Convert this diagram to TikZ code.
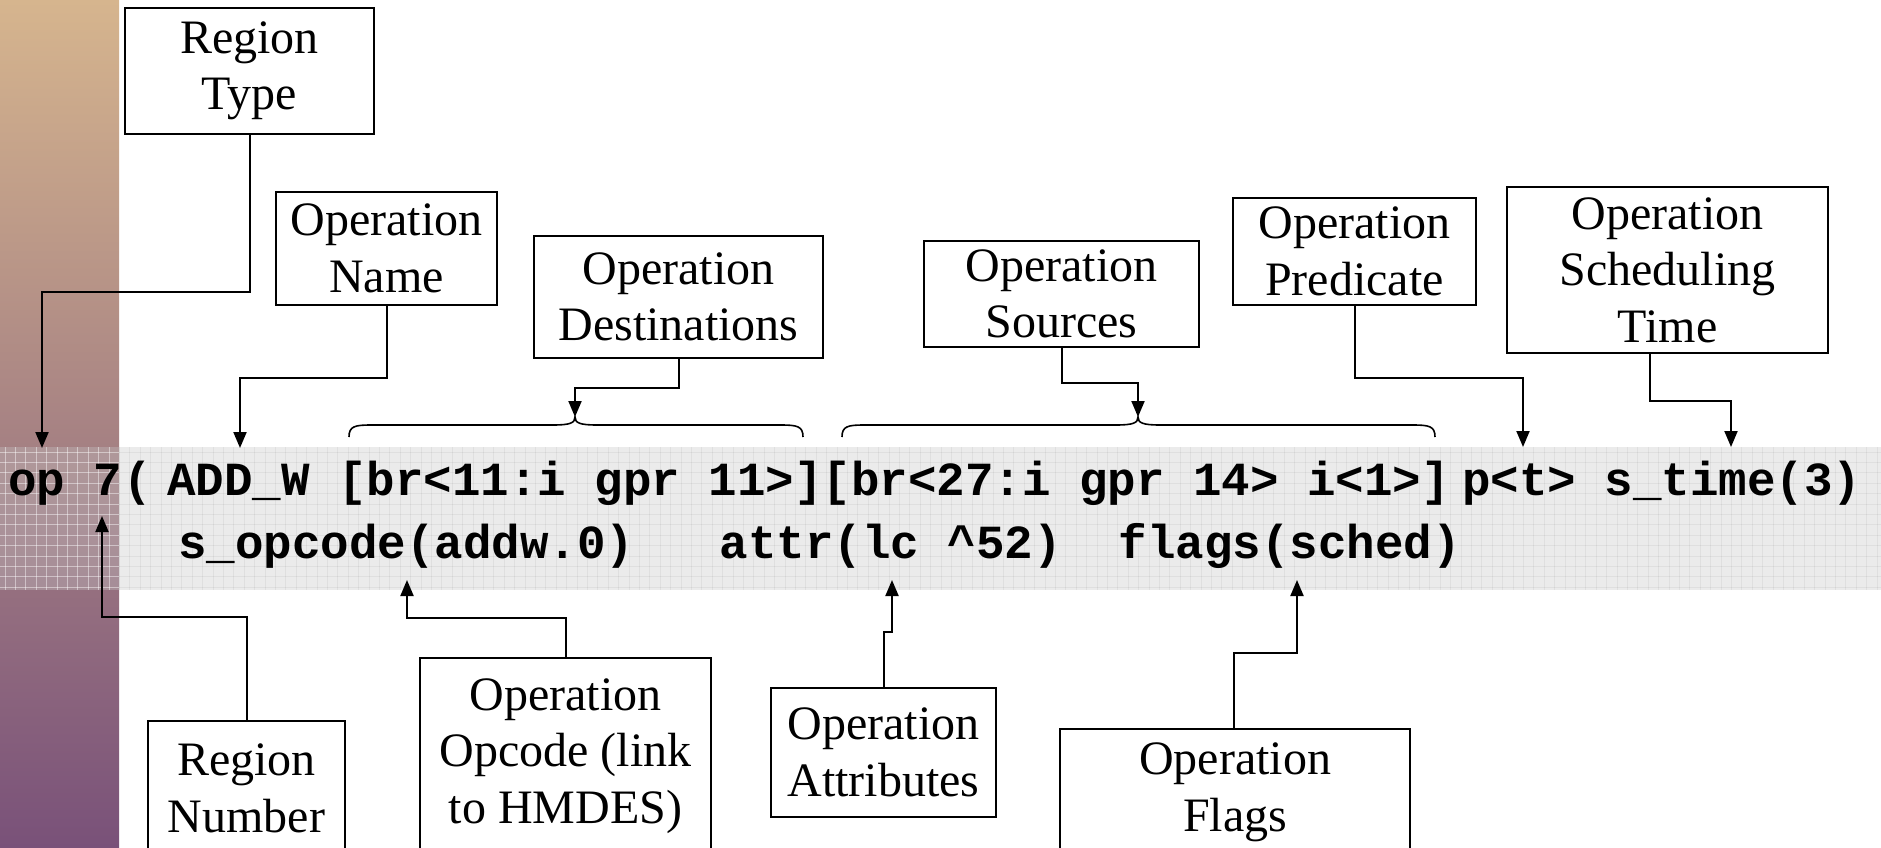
\documentclass[tikz,border=0pt]{standalone}
\usepackage{fontspec}
\setmainfont{Liberation Serif}
\newfontfamily\codefont{Liberation Mono}
\usetikzlibrary{arrows.meta}

\definecolor{stripetop}{RGB}{214,181,142}
\definecolor{stripebot}{RGB}{121,81,121}
\definecolor{bandgray}{RGB}{198,198,198}

\begin{document}
\begin{tikzpicture}[x=1pt,y=-1pt,
  lbl/.style={draw=black, line width=2.4pt, fill=white, align=center,
    inner sep=0pt, font=\fontsize{48}{56.5}\selectfont},
  code/.style={anchor=base west, inner sep=0pt,
    font={\codefont\bfseries\fontsize{47.5}{50}\selectfont}},
  conn/.style={line width=2pt, -{Triangle[width=13pt,length=16pt]}},
  brace/.style={line width=1.6pt},
  gridw/.style={white, opacity=0.45, line width=0.8pt},
  gridg/.style={black, opacity=0.05, line width=0.8pt},
]
\useasboundingbox (0,0) rectangle (1881,848);
\clip (0,0) rectangle (1881,848);

% side stripe
\fill[top color=stripetop, bottom color=stripebot] (0,0) rectangle (119,848);

% code band with its faint grid
\fill[bandgray, opacity=0.35] (0,447) rectangle (1881,590);
\begin{scope}
  \clip (0,447) rectangle (119,590);
  \foreach \gx in {5,15.4,...,120} \draw[gridw] (\gx,447) -- (\gx,590);
  \foreach \gy in {452,462.4,...,590} \draw[gridw] (0,\gy) -- (119,\gy);
\end{scope}
\begin{scope}
  \clip (119,447) rectangle (1881,590);
  \foreach \gx in {5,15.4,...,1881} \draw[gridg] (\gx,447) -- (\gx,590);
  \foreach \gy in {452,462.4,...,590} \draw[gridg] (119,\gy) -- (1881,\gy);
\end{scope}

% code text
\node[code] (t-op)   at (8,495)     {op 7};
\node[code] (t-par)  at (123,495)   {(};
\node[code] (t-dst)  at (167,495)   {ADD\_W [br<11:i gpr 11>][br<27:i gpr 14> i<1>]};
\node[code] (t-pt)   at (1462,495)  {p<t> s\_time(3)};
\node[code] (t-opc)  at (178,558)   {s\_opcode(addw.0)};
\node[code] (t-attr) at (719.5,558) {attr(lc \textasciicircum52)};
\node[code] (t-flg)  at (1118.5,558){flags(sched)};

% braces over destinations and sources
\draw[brace] (349,437) .. controls (349,426) and (355,425) .. (372,425) -- (553,425)
  .. controls (570,425) and (575,423) .. (575,417)
  .. controls (575,423) and (580,425) .. (597,425) -- (780,425)
  .. controls (797,425) and (803,426) .. (803,437);
\draw[brace] (842,437) .. controls (842,426) and (848,425) .. (865,425) -- (1116,425)
  .. controls (1133,425) and (1138,423) .. (1138,417)
  .. controls (1138,423) and (1143,425) .. (1160,425) -- (1412,425)
  .. controls (1429,425) and (1435,426) .. (1435,437);

% label boxes
\node[lbl, minimum width=249pt, minimum height=126pt] (rt)  at (249.5,71)    {Region\\Type};
\node[lbl, minimum width=221pt, minimum height=113pt] (nm)  at (386.5,248.5) {Operation\\Name};
\node[lbl, minimum width=289pt, minimum height=122pt] (dst) at (678.5,297)   {Operation\\Destinations};
\node[lbl, minimum width=275pt, minimum height=106pt] (src) at (1061.5,294)  {Operation\\Sources};
\node[lbl, minimum width=243pt, minimum height=107pt] (prd) at (1354.5,251.5){Operation\\Predicate};
\node[lbl, minimum width=321pt, minimum height=166pt] (stm) at (1667.5,270)  {Operation\\Scheduling\\Time};
\node[lbl, minimum width=197pt, minimum height=135pt] (rn)  at (246.5,788.5) {Region\\Number};
\node[lbl, minimum width=291pt, minimum height=196pt] (opc) at (565.5,756)   {Operation\\Opcode (link\\to HMDES)};
\node[lbl, minimum width=225pt, minimum height=129pt] (att) at (883.5,752.5) {Operation\\Attributes};
\node[lbl, minimum width=350pt, minimum height=127pt] (flg) at (1235,792.5)  {Operation\\Flags};

% arrow targets
\coordinate (a-rt)  at (42,448);
\coordinate (a-nm)  at (240,448);
\coordinate (a-dst) at (575,417);
\coordinate (a-src) at (1138,417);
\coordinate (a-prd) at (1523,447);
\coordinate (a-stm) at (1731,447);
\coordinate (a-rn)  at (102,516);
\coordinate (a-opc) at (407,580);
\coordinate (a-att) at (892,580);
\coordinate (a-flg) at (1297,580);

% connectors
\draw[conn] (rt.south) -- ++(0,157) -| (a-rt);
\draw[conn] (nm.south) -- ++(0,72) -| (a-nm);
\draw[conn] (dst.south) -- ++(0,29) -| (a-dst);
\draw[conn] (src.south) -- ++(0,35) -| (a-src);
\draw[conn] (prd.south) -- ++(0,72) -| (a-prd);
\draw[conn] ([xshift=-17.5pt]stm.south) -- ++(0,47) -| (a-stm);
\draw[conn] (rn.north) -- ++(0,-103) -| (a-rn);
\draw[conn] (opc.north) -- ++(0,-39) -| (a-opc);
\draw[conn] (att.north) -- ++(0,-55) -| (a-att);
\draw[conn] ([xshift=-1pt]flg.north) -- ++(0,-75) -| (a-flg);
\end{tikzpicture}
\end{document}
